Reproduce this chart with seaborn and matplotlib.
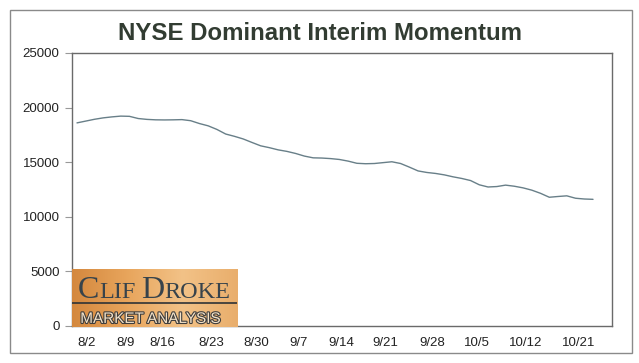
import numpy as np
import pandas as pd
import matplotlib
matplotlib.use("Agg")
import matplotlib.pyplot as plt
import matplotlib.patheffects as pe
from matplotlib.patches import Rectangle
from matplotlib.colors import LinearSegmentedColormap
import seaborn as sns

# ---- data ----
momentum = [18600, 18765, 18930, 19060, 19150, 19220, 19200, 19000, 18920, 18880,
            18870, 18880, 18900, 18800, 18540, 18330, 18000, 17580, 17370, 17130,
            16810, 16500, 16330, 16130, 15990, 15800, 15560, 15400, 15380, 15330,
            15250, 15100, 14900, 14860, 14880, 14960, 15040, 14880, 14550, 14200,
            14060, 13970, 13840, 13660, 13510, 13320, 12930, 12730, 12770, 12900,
            12800, 12650, 12440, 12150, 11790, 11860, 11920, 11700, 11630, 11600]
day = list(range(len(momentum)))
tick_labels = ["8/2", "8/9", "8/16", "8/23", "8/30", "9/7", "9/14", "9/21",
               "9/28", "10/5", "10/12", "10/21"]
tick_days = [1.1, 5.5, 9.8, 15.4, 20.5, 25.3, 30.2, 35.3, 40.6, 45.7, 51.3, 57.4]
y_ticks = [0, 5000, 10000, 15000, 20000, 25000]

df = pd.DataFrame({"day": day, "momentum": momentum})

sns.set_theme(style="white")
plt.rcParams["font.family"] = ["Liberation Sans", "DejaVu Sans"]

W, H = 639, 363
fig = plt.figure(figsize=(W / 100, H / 100), dpi=100)
fig.patch.set_facecolor("white")

# outer frame
fig.patches.append(Rectangle((10 / W, 1 - 353 / H), 622 / W, 343 / H,
                             transform=fig.transFigure, fill=False,
                             edgecolor="#8a8a8a", linewidth=1.0))

ax = fig.add_axes([72 / W, 1 - 326 / H, 540 / W, 273 / H])
sns.lineplot(data=df, x="day", y="momentum", ax=ax, color="#687f88",
             linewidth=1.0)

ax.set_xlim(-0.57, 61.17)
ax.set_ylim(0, 25000)
ax.set_yticks(y_ticks)
ax.set_yticklabels([str(v) for v in y_ticks], fontsize=9.5, color="#222222")
ax.set_xticks(tick_days)
ax.set_xticklabels(tick_labels, fontsize=9.5, color="#222222")
ax.tick_params(axis="y", length=5, width=0.8, color="#999999", pad=4, left=True)
ax.tick_params(axis="x", length=0, pad=8)
ax.set_xlabel("")
ax.set_ylabel("")
for s in ax.spines.values():
    s.set_color("#6a6a6a")
    s.set_linewidth(1.0)

fig.text(0.5, 1 - 33 / H, "NYSE Dominant Interim Momentum", ha="center",
         va="center", fontsize=17.3, fontweight="bold", color="#323c32")

# ---- logo box ----
lx0, lx1, ly0, ly1 = 72, 237, 269, 327
lax = fig.add_axes([lx0 / W, 1 - ly1 / H, (lx1 - lx0) / W, (ly1 - ly0) / H])
grad = np.linspace(0, 1, 256)[None, :]
cmap = LinearSegmentedColormap.from_list("logo", ["#d4883e", "#e8a55c", "#f2c287", "#e9ae6c"])
lax.imshow(grad, aspect="auto", cmap=cmap, extent=[0, 1, 0, 1])
lax.set_xlim(0, 1)
lax.set_ylim(0, 1)
lax.axis("off")
lax.plot([0, 1], [0.41, 0.41], color="#2e3336", linewidth=1.2)

fig.canvas.draw()
renderer = fig.canvas.get_renderer()

def put(ax_, x, y, s, size, **kw):
    t = ax_.text(x, y, s, fontsize=size, transform=ax_.transAxes, va="baseline",
                 ha="left", **kw)
    bb = t.get_window_extent(renderer=renderer)
    inv = ax_.transAxes.inverted()
    return inv.transform((bb.x1, bb.y0))[0]

serif = ["Liberation Serif", "DejaVu Serif"]
col = "#37434b"
x = 0.035
yb = 0.5
x = put(lax, x, yb, "C", 23, family=serif, color=col)
x = put(lax, x, yb, "LIF", 17.5, family=serif, color=col)
x = put(lax, x + 0.035, yb, "D", 23, family=serif, color=col)
x = put(lax, x, yb, "ROKE", 17.5, family=serif, color=col)

lax.text(0.05, 0.07, "MARKET ANALYSIS", transform=lax.transAxes, fontsize=11,
         family=["Liberation Sans", "DejaVu Sans"],
         color="#f4e2c8", va="baseline", ha="left",
         path_effects=[pe.withStroke(linewidth=1.6, foreground="#3d3d3d")])

fig.savefig("out.png", dpi=100, facecolor="white")
